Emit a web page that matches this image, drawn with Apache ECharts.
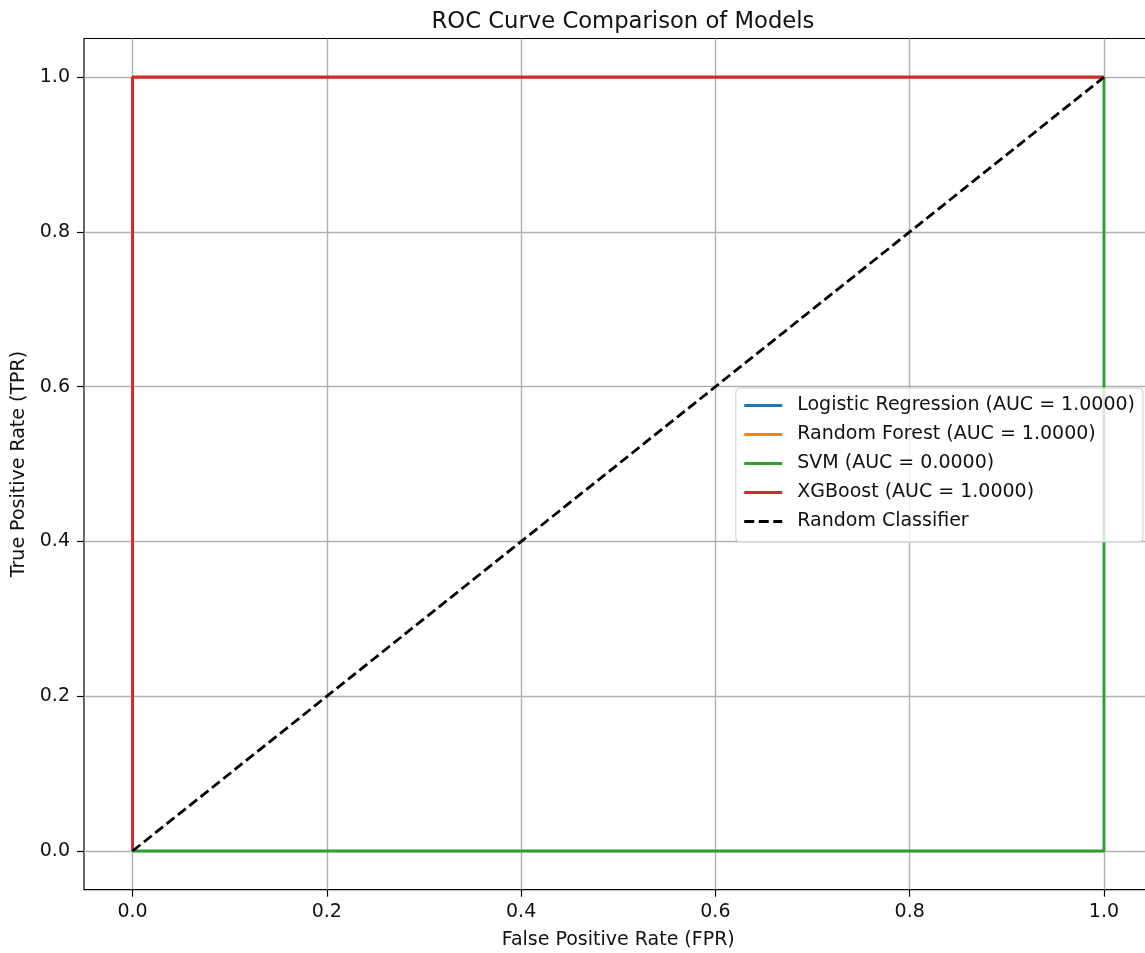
<!DOCTYPE html>
<html>
<head>
<meta charset="utf-8">
<title>ROC Curve Comparison of Models</title>
<script src="https://cdn.jsdelivr.net/npm/echarts@6/dist/echarts.min.js"></script>
<style>
  html, body { margin: 0; padding: 0; background: #fff; }
  #chart { width: 1145px; height: 953px; }
</style>
</head>
<body>
<div id="chart"></div>
<script>
// ROC points (fpr, tpr) per model
const lrFpr = [0, 0, 1]
const lrTpr = [0, 1, 1]
const rfFpr = [0, 0, 1]
const rfTpr = [0, 1, 1]
const svmFpr = [0, 1, 1]
const svmTpr = [0, 0, 1]
const xgbFpr = [0, 0, 1]
const xgbTpr = [0, 1, 1]
const diagFpr = [0, 1]
const diagTpr = [0, 1]

const modelNames = [
  "Logistic Regression (AUC = 1.0000)",
  "Random Forest (AUC = 1.0000)",
  "SVM (AUC = 0.0000)",
  "XGBoost (AUC = 1.0000)",
  "Random Classifier"
]
const tickValues = [0, 0.2, 0.4, 0.6, 0.8, 1.0]

const font = "DejaVu Sans"
const zip = (xs, ys) => xs.map((x, i) => [x, ys[i]])

const chart = echarts.init(document.getElementById("chart"))

const axisCommon = {
  type: "value",
  min: -0.05,
  max: 1.05,
  nameLocation: "middle",
  nameTextStyle: { fontFamily: font, fontSize: 19, color: "#111" },
  axisLine: { show: false, onZero: false },
  axisTick: {
    show: true,
    inside: false,
    length: 7,
    customValues: tickValues,
    lineStyle: { color: "#000", width: 1.2 }
  },
  axisLabel: {
    customValues: tickValues,
    fontFamily: font,
    fontSize: 19,
    color: "#111",
    formatter: v => v.toFixed(1)
  },
  splitLine: {
    show: true,
    lineStyle: { color: "#b0b0b0", width: 1.4 }
  }
}

const lineSeries = (name, data, color, dashed) => ({
  name: name,
  type: "line",
  data: data,
  symbol: "none",
  showSymbol: false,
  lineStyle: dashed
    ? { color: color, width: 2.8, type: [10, 4.5] }
    : { color: color, width: 2.8 },
  itemStyle: { color: color }
})

const option = {
  animation: false,
  backgroundColor: "#fff",
  title: {
    text: "ROC Curve Comparison of Models",
    left: 618,
    textAlign: "center",
    top: 6,
    textStyle: { fontFamily: font, fontSize: 22.7, fontWeight: "normal", color: "#111" }
  },
  grid: {
    left: 84,
    top: 38.5,
    right: -7.5,
    bottom: 63.3,
    outerBoundsMode: "none",
    containLabel: false,
    show: true,
    borderColor: "#000",
    borderWidth: 1.2,
    backgroundColor: "transparent"
  },
  xAxis: Object.assign({}, axisCommon, {
    name: "False Positive Rate (FPR)",
    nameGap: 41,
    axisLabel: Object.assign({}, axisCommon.axisLabel, { margin: 13 })
  }),
  yAxis: Object.assign({}, axisCommon, {
    name: "True Positive Rate (TPR)",
    nameGap: 54,
    axisLabel: Object.assign({}, axisCommon.axisLabel, { margin: 14 })
  }),
  legend: {
    data: modelNames,
    orient: "vertical",
    right: 2,
    top: 388,
    itemWidth: 38,
    itemHeight: 19,
    itemGap: 10,
    padding: [8, 8, 11, 7],
    backgroundColor: "rgba(255,255,255,0.8)",
    borderColor: "#cccccc",
    borderWidth: 1,
    borderRadius: 4,
    itemStyle: { opacity: 0 },
    lineStyle: { width: 2.8 },
    textStyle: {
      fontFamily: font,
      fontSize: 19,
      lineHeight: 19,
      color: "#111",
      padding: [0, 0, 0, 10]
    }
  },
  series: [
    lineSeries(modelNames[0], zip(lrFpr, lrTpr), "#1f77b4", false),
    lineSeries(modelNames[1], zip(rfFpr, rfTpr), "#ff7f0e", false),
    lineSeries(modelNames[2], zip(svmFpr, svmTpr), "#2ca02c", false),
    lineSeries(modelNames[3], zip(xgbFpr, xgbTpr), "#d62728", false),
    lineSeries(modelNames[4], zip(diagFpr, diagTpr), "#000000", true)
  ]
}

chart.setOption(option)
</script>
</body>
</html>
